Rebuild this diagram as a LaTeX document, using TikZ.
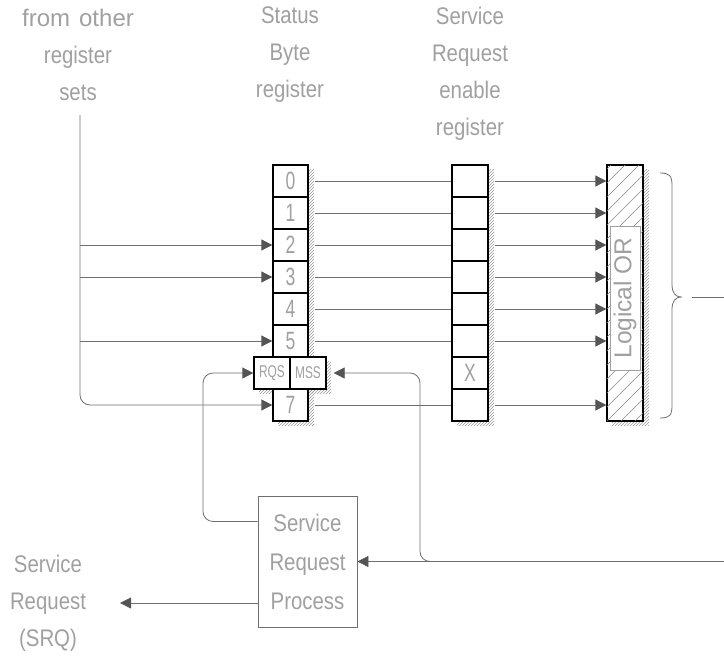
\documentclass[tikz,border=0pt]{standalone}
\usepackage{fontspec}
\setmainfont{Liberation Sans}[FakeStretch=0.85]
\newfontfamily\narrowfont{Liberation Sans}[FakeStretch=0.7]
\newfontfamily\plainfont{Liberation Sans}
\usetikzlibrary{arrows.meta,patterns}
\definecolor{txt}{RGB}{160,160,160}
\definecolor{wirec}{RGB}{110,110,110}
\definecolor{tipc}{RGB}{85,85,85}
\begin{document}
\begin{tikzpicture}[x=1pt,y=-1pt,
  lbl/.style={text=txt, font=\fontsize{24}{37}\selectfont, align=center, inner sep=0pt},
  cell/.style={draw=black, line width=1.3pt, fill=white, minimum width=35pt, minimum height=32pt, inner sep=0pt, text=txt, font=\narrowfont\fontsize{25}{25}\selectfont},
  smallcell/.style={cell, minimum width=36pt, font=\narrowfont\fontsize{17}{17}\selectfont},
  wire/.style={draw=wirec, line width=0.8pt},
  arr/.style={wire, -{Triangle[length=11pt,width=11pt,color=tipc]}},
  shade/.style={pattern=north east lines, pattern color=gray!80},
  procbox/.style={draw=wirec, line width=0.8pt, fill=white, minimum width=99pt, minimum height=131pt, text=txt, font=\fontsize{24}{39}\selectfont, align=center, inner sep=0pt}
]
\useasboundingbox (0,0) rectangle (724,657);

% labels
\node[lbl] (lsrc) at (78,55) {{\plainfont from\hspace{9pt}other}\\register\\sets};
\node[lbl] (lsb) at (290,55) {Status\\Byte\\register};
\node[lbl] (lsre) at (470,73.5) {Service\\Request\\enable\\register};

% shadows
\fill[shade] (278,169) rectangle (314,425);
\fill[shade] (259,361) rectangle (331,393);
\fill[shade] (457,169) rectangle (494,425);
\fill[shade] (612,169) rectangle (649,425);

% status byte register
\foreach \i/\t in {0/0,1/1,2/2,3/3,4/4,5/5,7/7}
  \node[cell] (s\i) at (290.5,{181+32*\i}) {\t};
\node[smallcell] (rqs) at (272,373) {RQS};
\node[smallcell] (mss) at (308,373) {MSS};

% enable register
\foreach \i in {0,...,7}
  \node[cell, minimum width=36pt] (e\i) at (470,{181+32*\i}) {};
\node[text=txt, font=\narrowfont\fontsize{25}{25}\selectfont] at (e6) {X};

% logical OR
\node[draw=black, line width=1.3pt, fill=white, minimum width=36pt, minimum height=256pt, inner sep=0pt] (or) at (625,293) {};
\begin{scope}
  \clip (607,165) rectangle (643,421);
  \foreach \k in {-308,-294,...,48}
    \draw[wirec!80, line width=0.6pt] ({607+\k},421) -- ({607+\k+256},165);
\end{scope}
\node[draw=txt, line width=0.8pt, fill=white, minimum width=144pt, minimum height=30pt, inner sep=0pt, rotate=90, text=txt, font=\plainfont\fontsize{24.5}{24.5}\selectfont] (orl) at (625,298) {Logical OR};
\draw[black, line width=1.3pt] (or.north west) rectangle (or.south east);

% connectors status -> enable -> OR
\foreach \i in {0,1,2,3,4,5,7} {
  \draw[wire] ([xshift=6pt]s\i.east) -- (e\i.west);
  \draw[arr] ([xshift=6pt]e\i.east) -- (or.west |- e\i);
}

% from other register sets
\coordinate (src) at (80,115);
\draw[arr, rounded corners=10pt] (src) |- (s7.west);
\foreach \i in {2,3,5}
  \draw[arr] (src |- s\i) -- (s\i.west);

% service request process
\node[procbox] (srp) at (307.5,561.5) {Service\\Request\\Process};
\coordinate (bend1) at (203,450);
\draw[arr, rounded corners=10pt] ([yshift=40pt]srp.west) -| (bend1) |- (rqs.west);

% from the right
\coordinate (right) at (724,561.5);
\draw[arr] (right) -- (srp.east);
\coordinate (mssj) at (433,561.5);
\coordinate (mssv) at (420,450);
\draw[arr, rounded corners=10pt] (mssj) -| (mssv) |- ([xshift=7pt]mss.east);

% SRQ
\node[lbl] (srq) at (48,603) {Service\\Request\\(SRQ)};
\coordinate (srqtip) at (120,603);
\draw[arr] ([yshift=-41.5pt]srp.west) -- (srqtip);

% brace
\coordinate (bout) at (724,297);
\draw[wire] (660,173) .. controls (670,173) and (672,176) .. (672,186) -- (672,284)
  .. controls (672,293) and (675,297) .. (682,297)
  .. controls (675,297) and (672,301) .. (672,310) -- (672,405)
  .. controls (672,415) and (670,418) .. (660,418);
\draw[wire] (692,297) -- (bout);
\end{tikzpicture}
\end{document}
